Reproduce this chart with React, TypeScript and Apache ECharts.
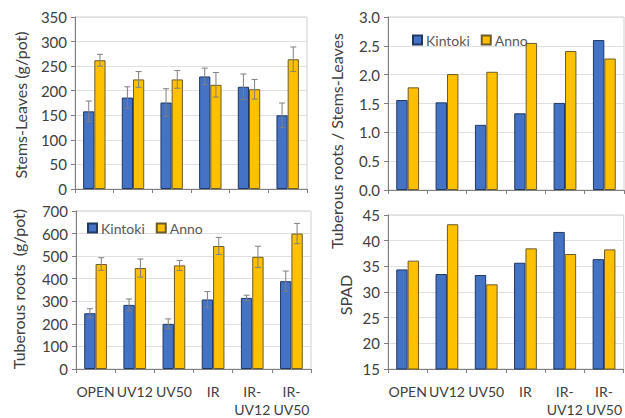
import React, { useEffect, useRef } from "react";
import * as echarts from "echarts";

const categories = ["OPEN", "UV12", "UV50", "IR", "IR-\nUV12", "IR-\nUV50"];

const stemsKintoki = [158, 186, 176, 229, 208, 150];
const stemsKintokiErr = [21, 22, 28, 17, 26, 25];
const stemsAnno = [262, 223, 223, 212, 203, 264];
const stemsAnnoErr = [12, 16, 18, 25, 20, 25];

const ratioKintoki = [1.56, 1.52, 1.13, 1.33, 1.51, 2.6];
const ratioAnno = [1.78, 2.01, 2.05, 2.55, 2.41, 2.28];

const rootsKintoki = [247, 284, 200, 308, 315, 389];
const rootsKintokiErr = [20, 26, 22, 35, 12, 45];
const rootsAnno = [465, 447, 459, 545, 497, 600];
const rootsAnnoErr = [28, 40, 22, 38, 47, 45];

const spadKintoki = [34.4, 33.5, 33.3, 35.7, 41.7, 36.4];
const spadAnno = [36.1, 43.2, 31.5, 38.5, 37.4, 38.3];

const BLUE = "#4472C4";
const GOLD = "#FFC000";
const FONT = "Lato";
const GAP = 0.42;

function makeErr(xi: number, vals: number[], errs: number[], side: number) {
  return {
    type: "custom",
    xAxisIndex: xi,
    yAxisIndex: xi,
    z: 10,
    silent: true,
    data: vals.map((v, i) => [i, v, errs[i]]),
    renderItem: (params: any, api: any) => {
      const i = api.value(0);
      const v = api.value(1);
      const e = api.value(2);
      const band = api.size([1, 0])[0];
      const bw = (band * (1 - GAP)) / 2;
      const cx = api.coord([i, v])[0] + (side * bw) / 2;
      const top = api.coord([i, v + e])[1];
      const bot = api.coord([i, v - e])[1];
      const cap = 3;
      const st = { stroke: "#7F7F7F", lineWidth: 1 };
      return {
        type: "group",
        children: [
          { type: "line", shape: { x1: cx, y1: top, x2: cx, y2: bot }, style: st },
          { type: "line", shape: { x1: cx - cap, y1: top, x2: cx + cap, y2: top }, style: st },
          { type: "line", shape: { x1: cx - cap, y1: bot, x2: cx + cap, y2: bot }, style: st },
        ],
      };
    },
  };
}

function bar(xi: number, name: string, data: number[]) {
  const isK = name === "Kintoki";
  return {
    type: "bar",
    name,
    xAxisIndex: xi,
    yAxisIndex: xi,
    data,
    barGap: "0%",
    barCategoryGap: GAP * 100 + "%",
    itemStyle: {
      color: isK ? BLUE : GOLD,
      borderColor: isK ? "#1F3864" : "#6B5B2B",
      borderWidth: 1,
    },
  };
}

export default function App() {
  const ref = useRef<HTMLDivElement>(null);
  useEffect(() => {
    document.body.style.margin = "0";
    const chart = echarts.init(ref.current!, null, { renderer: "svg" });
    const grids = [
      { left: 75, top: 17, width: 232, height: 172 },
      { left: 388, top: 17, width: 236, height: 173 },
      { left: 76, top: 211, width: 235, height: 164 },
      { left: 388, top: 215, width: 236, height: 159 },
    ];
    const yCfg = [
      { min: 0, max: 350, interval: 50, fmt: (v: number) => String(v) },
      { min: 0, max: 3, interval: 0.5, fmt: (v: number) => v.toFixed(1) },
      { min: 0, max: 700, interval: 100, fmt: (v: number) => String(v) },
      { min: 15, max: 45, interval: 5, fmt: (v: number) => String(v) },
    ];
    const legendBase = {
      data: ["Kintoki", "Anno"],
      itemWidth: 9,
      itemHeight: 9,
      itemGap: 11,
      icon: "rect",
      textStyle: { fontFamily: FONT, fontSize: 14, color: "#595959", padding: [0, 0, 0, -1] },
    };
    const option: any = {
      animation: false,
      textStyle: { fontFamily: FONT },
      grid: grids.map((g) => ({
        ...g,
        show: true,
        borderColor: "#D0D0D0",
        borderWidth: 1,
        containLabel: false,
      })),
      legend: [
        { ...legendBase, left: 407, top: 28 },
        { ...legendBase, left: 82, top: 216 },
      ],
      xAxis: grids.map((_, i) => ({
        type: "category",
        gridIndex: i,
        data: categories,
        axisLine: { show: true, lineStyle: { color: "#7F7F7F" } },
        axisTick: { show: true, length: 4, lineStyle: { color: "#7F7F7F" } },
        axisLabel: {
          show: i >= 2,
          interval: 0,
          fontFamily: FONT,
          fontSize: 14,
          color: "#404040",
          margin: 13,
          lineHeight: 18,
        },
      })),
      yAxis: yCfg.map((c, i) => ({
        type: "value",
        gridIndex: i,
        min: c.min,
        max: c.max,
        interval: c.interval,
        axisLine: { show: true, lineStyle: { color: "#7F7F7F" } },
        axisTick: { show: true, length: 4, lineStyle: { color: "#7F7F7F" } },
        splitLine: { show: true, lineStyle: { color: "#E0E0E0" } },
        axisLabel: {
          fontFamily: FONT,
          fontSize: 15,
          color: "#404040",
          margin: 8,
          formatter: c.fmt,
        },
      })),
      series: [
        bar(0, "Kintoki", stemsKintoki),
        bar(0, "Anno", stemsAnno),
        makeErr(0, stemsKintoki, stemsKintokiErr, -1),
        makeErr(0, stemsAnno, stemsAnnoErr, 1),
        bar(1, "Kintoki", ratioKintoki),
        bar(1, "Anno", ratioAnno),
        bar(2, "Kintoki", rootsKintoki),
        bar(2, "Anno", rootsAnno),
        makeErr(2, rootsKintoki, rootsKintokiErr, -1),
        makeErr(2, rootsAnno, rootsAnnoErr, 1),
        bar(3, "Kintoki", spadKintoki),
        bar(3, "Anno", spadAnno),
      ],
      graphic: [
        {
          type: "text",
          x: 20,
          y: 105,
          rotation: Math.PI / 2,
          style: {
            text: "Stems-Leaves (g/pot)",
            fontFamily: FONT,
            fontSize: 16,
            fill: "#404040",
            align: "center",
            verticalAlign: "middle",
          },
        },
        {
          type: "text",
          x: 336,
          y: 141,
          rotation: Math.PI / 2,
          style: {
            text: "Tuberous roots / Stems-Leaves",
            fontFamily: FONT,
            fontSize: 16,
            fill: "#404040",
            align: "center",
            verticalAlign: "middle",
          },
        },
        {
          type: "text",
          x: 18,
          y: 289,
          rotation: Math.PI / 2,
          style: {
            text: "Tuberous roots  (g/pot)",
            fontFamily: FONT,
            fontSize: 16,
            fill: "#404040",
            align: "center",
            verticalAlign: "middle",
          },
        },
        {
          type: "text",
          x: 345,
          y: 295,
          rotation: Math.PI / 2,
          style: {
            text: "SPAD",
            fontFamily: FONT,
            fontSize: 16,
            fill: "#404040",
            align: "center",
            verticalAlign: "middle",
          },
        },
      ],
    };
    chart.setOption(option);
    return () => chart.dispose();
  }, []);
  return <div ref={ref} style={{ width: 625, height: 418 }} />;
}
